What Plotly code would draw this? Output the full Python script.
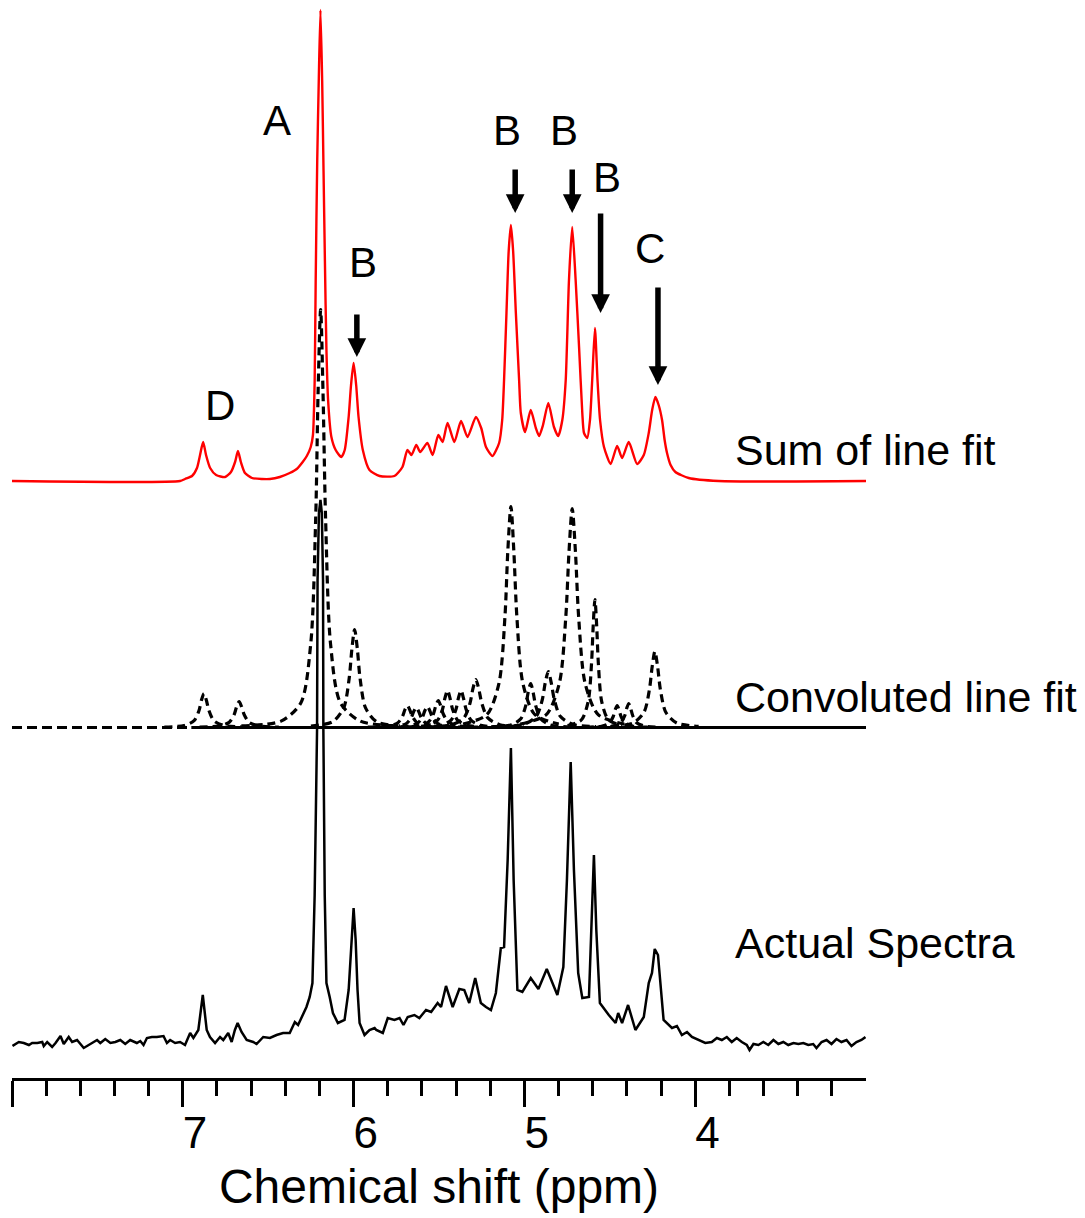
import plotly.graph_objects as go

# ---------------- axis ----------------
x_range = [8.0, 3.0]
major_ticks = [8, 7, 6, 5, 4]
major_labels = ["", "\u00a0\u00a07", "\u00a0\u00a06", "\u00a0\u00a05", "\u00a0\u00a04"]
minor_ticks = [7.8, 7.6, 7.4, 7.2, 6.8, 6.6, 6.4, 6.2, 5.8, 5.6, 5.4, 5.2,
               4.8, 4.6, 4.4, 4.2, 3.8, 3.6, 3.4, 3.2]
x_title = "Chemical shift (ppm)"

# ---------------- Sum of line fit (ppm, intensity a.u.) ----------------
sum_fit = [
    (8.000, 0), (7.016, 0), (6.987, 2), (6.946, 5), (6.917, 13), (6.899, 26), (6.881, 39),
    (6.864, 26), (6.840, 13), (6.805, 6), (6.753, 4), (6.718, 9), (6.694, 19), (6.677, 30),
    (6.660, 19), (6.636, 8), (6.595, 3), (6.537, 2), (6.490, 2), (6.432, 4), (6.374, 8),
    (6.333, 12), (6.298, 19), (6.274, 25), (6.251, 34), (6.238, 46), (6.228, 100),
    (6.222, 200), (6.213, 320), (6.204, 400), (6.194, 471), (6.184, 400), (6.176, 310),
    (6.168, 220), (6.159, 131), (6.149, 80), (6.130, 44), (6.105, 31), (6.072, 24),
    (6.052, 31), (6.029, 64), (6.015, 96), (6.000, 118), (5.985, 96), (5.971, 64),
    (5.946, 31), (5.907, 11), (5.848, 5), (5.761, 5), (5.714, 14), (5.685, 31),
    (5.661, 26), (5.633, 36), (5.610, 29), (5.568, 38), (5.537, 26), (5.504, 46),
    (5.479, 39), (5.450, 58), (5.410, 39), (5.371, 60), (5.333, 44), (5.284, 64),
    (5.253, 53), (5.225, 34), (5.187, 25), (5.148, 38), (5.130, 61), (5.119, 101),
    (5.105, 168), (5.092, 230), (5.079, 256), (5.066, 230), (5.050, 168), (5.031, 101),
    (5.021, 68), (4.996, 49), (4.963, 71), (4.933, 53), (4.914, 45), (4.891, 56),
    (4.860, 78), (4.827, 54), (4.802, 45), (4.778, 61), (4.758, 101), (4.739, 201),
    (4.720, 254), (4.700, 201), (4.680, 134), (4.661, 68), (4.651, 48), (4.632, 43),
    (4.616, 61), (4.603, 101), (4.587, 153), (4.572, 101), (4.557, 61), (4.534, 34),
    (4.495, 17), (4.457, 35), (4.428, 23), (4.389, 39), (4.340, 17), (4.301, 26),
    (4.272, 48), (4.252, 71), (4.233, 84), (4.214, 76), (4.194, 61), (4.179, 41),
    (4.165, 28), (4.144, 16), (4.116, 9), (4.038, 3), (3.863, 0), (3.000, 0),
]

# ---------------- Convoluted line fit: individual components ----------------
fit_D1 = [(7.108, 0.5), (6.992, 2.0), (6.934, 6.8), (6.905, 17), (6.891, 27.2), (6.876, 34),
          (6.862, 27.2), (6.847, 17), (6.818, 6.8), (6.760, 2.0), (6.644, 0.5)]
fit_D2 = [(6.902, 0.4), (6.786, 1.5), (6.728, 5.2), (6.699, 13), (6.685, 20.8), (6.670, 26),
          (6.656, 20.8), (6.641, 13), (6.612, 5.2), (6.554, 1.5), (6.438, 0.4)]
fit_A = [(6.657, 1.6), (6.425, 6.4), (6.309, 24.6), (6.251, 83.6), (6.222, 209), (6.208, 334.4),
         (6.193, 418), (6.179, 334.4), (6.164, 209), (6.135, 83.6), (6.077, 24.6),
         (5.961, 6.4), (5.729, 1.6)]
fit_B1 = [(6.250, 1.5), (6.122, 5.8), (6.058, 19.6), (6.026, 49), (6.010, 78.4), (5.994, 98),
          (5.978, 78.4), (5.962, 49), (5.930, 19.6), (5.866, 5.8), (5.738, 1.5)]
fit_s1 = [(5.917, 0.3), (5.801, 1.3), (5.743, 4.4), (5.714, 11), (5.700, 17.6), (5.685, 22),
          (5.671, 17.6), (5.656, 11), (5.627, 4.4), (5.569, 1.3), (5.453, 0.3)]
fit_s2 = [(5.865, 0.3), (5.749, 1.2), (5.691, 4), (5.662, 10), (5.648, 16), (5.633, 20),
          (5.619, 16), (5.604, 10), (5.575, 4), (5.517, 1.2), (5.401, 0.3)]
fit_s3 = [(5.800, 0.3), (5.684, 1.2), (5.626, 4.2), (5.597, 10.5), (5.583, 16.8), (5.568, 21),
          (5.554, 16.8), (5.539, 10.5), (5.510, 4.2), (5.452, 1.2), (5.336, 0.3)]
fit_s4 = [(5.736, 0.4), (5.620, 1.6), (5.562, 5.4), (5.533, 13.5), (5.519, 21.6), (5.504, 27),
          (5.490, 21.6), (5.475, 13.5), (5.446, 5.4), (5.388, 1.6), (5.272, 0.4)]
fit_s5 = [(5.682, 0.6), (5.566, 2.2), (5.508, 7.4), (5.479, 18.5), (5.465, 29.6), (5.450, 37),
          (5.436, 29.6), (5.421, 18.5), (5.392, 7.4), (5.334, 2.2), (5.218, 0.6)]
fit_s6 = [(5.603, 0.6), (5.487, 2.2), (5.429, 7.4), (5.400, 18.5), (5.386, 29.6), (5.371, 37),
          (5.357, 29.6), (5.342, 18.5), (5.313, 7.4), (5.255, 2.2), (5.139, 0.6)]
fit_s7 = [(5.564, 0.7), (5.424, 2.8), (5.354, 9.6), (5.319, 24), (5.302, 38.4), (5.284, 48),
          (5.267, 38.4), (5.249, 24), (5.214, 9.6), (5.144, 2.8), (5.004, 0.7)]
fit_B2 = [(5.359, 3.4), (5.219, 13), (5.149, 44.2), (5.114, 110.5), (5.097, 176.8), (5.079, 221),
          (5.062, 176.8), (5.044, 110.5), (5.009, 44.2), (4.939, 13), (4.799, 3.4)]
fit_m1 = [(5.195, 0.7), (5.079, 2.6), (5.021, 8.8), (4.992, 22), (4.978, 35.2), (4.963, 44),
          (4.949, 35.2), (4.934, 22), (4.905, 8.8), (4.847, 2.6), (4.731, 0.7)]
fit_m2 = [(5.140, 0.9), (5.000, 3.3), (4.930, 11.2), (4.895, 28), (4.878, 44.8), (4.860, 56),
          (4.843, 44.8), (4.825, 28), (4.790, 11.2), (4.720, 3.3), (4.580, 0.9)]
fit_B3 = [(5.024, 3.4), (4.872, 12.9), (4.796, 43.8), (4.758, 109.5), (4.739, 175.2), (4.720, 219),
          (4.701, 175.2), (4.682, 109.5), (4.644, 43.8), (4.568, 12.9), (4.416, 3.4)]
fit_B4 = [(4.747, 2), (4.667, 7.5), (4.627, 25.6), (4.607, 64), (4.597, 102.4), (4.587, 128),
          (4.577, 102.4), (4.567, 64), (4.547, 25.6), (4.507, 7.5), (4.427, 2)]
fit_n1 = [(4.641, 0.3), (4.549, 1.3), (4.503, 4.4), (4.480, 11), (4.469, 17.6), (4.457, 22),
          (4.446, 17.6), (4.434, 11), (4.411, 4.4), (4.365, 1.3), (4.273, 0.3)]
fit_n2 = [(4.573, 0.4), (4.481, 1.4), (4.435, 4.8), (4.412, 12), (4.401, 19.2), (4.389, 24),
          (4.378, 19.2), (4.366, 12), (4.343, 4.8), (4.297, 1.4), (4.205, 0.4)]
fit_C = [(4.492, 1.2), (4.364, 4.5), (4.300, 15.2), (4.268, 38), (4.252, 60.8), (4.236, 76),
         (4.220, 60.8), (4.204, 38), (4.172, 15.2), (4.108, 4.5), (3.980, 1.2)]
fit_baseline_dashed = [(8.0, 0), (3.0, 0)]
fit_baseline_solid = [(6.95, 0), (3.0, 0)]

# ---------------- Actual spectrum (ppm, intensity a.u.) ----------------
actual = [
    (7.997, -1), (7.960, 3), (7.931, 2), (7.901, 0), (7.882, 2), (7.852, 2), (7.823, 3),
    (7.814, -1), (7.794, 3), (7.765, -2), (7.745, 2), (7.716, 9), (7.697, 1), (7.668, 8),
    (7.648, 3), (7.619, 5), (7.580, -3), (7.541, 1), (7.502, 5), (7.483, 2), (7.454, 6),
    (7.424, 2), (7.395, 3), (7.366, 5), (7.337, 1), (7.308, 5), (7.269, 2), (7.249, 4),
    (7.230, 0), (7.210, 7), (7.181, 8), (7.152, 8), (7.113, 9), (7.093, 2), (7.074, 5),
    (7.045, 2), (7.016, 3), (6.987, 0), (6.957, 12), (6.938, 7), (6.909, 15), (6.883, 50),
    (6.860, 15), (6.841, 8), (6.811, 2), (6.782, 8), (6.763, 5), (6.734, 12), (6.714, 3),
    (6.695, 15), (6.679, 22), (6.656, 13), (6.626, 5), (6.588, 3), (6.568, 1), (6.529, 8),
    (6.490, 7), (6.451, 10), (6.413, 12), (6.374, 12), (6.344, 23), (6.325, 20), (6.296, 30),
    (6.276, 38), (6.257, 48), (6.241, 62), (6.228, 150), (6.214, 315), (6.211, 465),
    (6.203, 532), (6.194, 545), (6.186, 532), (6.179, 465), (6.177, 315), (6.169, 150),
    (6.159, 62), (6.140, 48), (6.121, 32), (6.092, 22), (6.070, 24), (6.053, 25),
    (6.029, 55), (6.012, 105), (6.000, 137), (5.988, 105), (5.977, 55), (5.965, 22),
    (5.936, 10), (5.907, 15), (5.877, 17), (5.867, 15), (5.829, 12), (5.800, 27),
    (5.761, 25), (5.731, 27), (5.708, 20), (5.683, 28), (5.644, 30), (5.615, 27),
    (5.576, 35), (5.546, 33), (5.508, 42), (5.488, 38), (5.459, 59), (5.420, 38),
    (5.381, 56), (5.352, 55), (5.323, 42), (5.288, 67), (5.255, 42), (5.225, 38),
    (5.196, 35), (5.167, 52), (5.138, 97), (5.119, 98), (5.098, 185), (5.079, 297),
    (5.063, 165), (5.041, 55), (5.012, 53), (4.963, 67), (4.918, 56), (4.869, 76),
    (4.846, 67), (4.807, 50), (4.772, 78), (4.751, 165), (4.729, 283), (4.710, 175),
    (4.685, 72), (4.661, 47), (4.622, 48), (4.605, 125), (4.593, 190), (4.579, 115),
    (4.558, 42), (4.506, 30), (4.466, 22), (4.451, 32), (4.428, 22), (4.393, 40),
    (4.350, 15), (4.301, 28), (4.272, 62), (4.253, 72), (4.237, 96), (4.218, 90),
    (4.185, 25), (4.136, 17), (4.107, 19), (4.078, 10), (4.048, 13), (4.019, 8),
    (3.980, 5), (3.941, 2), (3.903, 3), (3.873, 7), (3.844, 5), (3.815, 8), (3.786, 3),
    (3.757, 7), (3.727, 3), (3.698, 0), (3.682, -5), (3.659, 1), (3.630, 0), (3.601, 3),
    (3.572, 0), (3.542, 5), (3.513, 1), (3.484, 3), (3.455, 0), (3.425, 2), (3.396, 1),
    (3.367, 2), (3.338, 0), (3.309, 1), (3.290, -3), (3.260, 3), (3.231, 5), (3.202, 1),
    (3.173, 6), (3.144, 3), (3.114, 5), (3.085, -1), (3.056, 3), (3.027, 5), (3.003, 8),
]

# ---------------- labels ----------------
peak_labels = ["A", "B", "B", "B", "B", "C", "D"]
peak_label_ppm = [6.449, 5.947, 5.101, 4.768, 4.517, 4.266, 6.782]
peak_label_int = [361, 219, 351, 351, 304, 233, 76]

arrow_ppm = [5.981, 5.054, 4.720, 4.554, 4.218]
arrow_int = [124, 268, 268, 168, 96]
arrow_len = [44, 45, 45, 101, 99]

trace_names = ["Sum of line fit", "Convoluted line fit", "Actual Spectra"]
trace_label_ppm = 3.776
trace_label_int = [31, 30.5, 102]

FONT = "Liberation Sans, Arial, Helvetica, sans-serif"

fig = go.Figure()

# actual spectrum (y)
fig.add_trace(go.Scatter(
    x=[p[0] for p in actual], y=[p[1] for p in actual], mode="lines",
    line=dict(color="black", width=2.5), yaxis="y", showlegend=False, hoverinfo="skip"))

# convoluted components (y2)
components = [fit_D1, fit_D2, fit_A, fit_B1, fit_s1, fit_s2, fit_s3, fit_s4, fit_s5, fit_s6,
              fit_s7, fit_B2, fit_m1, fit_m2, fit_B3, fit_B4, fit_n1, fit_n2, fit_C]
fig.add_trace(go.Scatter(
    x=[p[0] for p in fit_baseline_dashed], y=[p[1] for p in fit_baseline_dashed], mode="lines",
    line=dict(color="black", width=3.2, dash="10px,5px"), yaxis="y2",
    showlegend=False, hoverinfo="skip"))
for comp in components:
    fig.add_trace(go.Scatter(
        x=[p[0] for p in comp], y=[p[1] for p in comp], mode="lines",
        line=dict(color="black", width=3.2, dash="8px,5px", shape="spline", smoothing=0.8),
        yaxis="y2", showlegend=False, hoverinfo="skip"))
fig.add_trace(go.Scatter(
    x=[p[0] for p in fit_baseline_solid], y=[p[1] for p in fit_baseline_solid], mode="lines",
    line=dict(color="black", width=3.2), yaxis="y2", showlegend=False, hoverinfo="skip"))

# sum of line fit (y3)
fig.add_trace(go.Scatter(
    x=[p[0] for p in sum_fit], y=[p[1] for p in sum_fit], mode="lines",
    line=dict(color="#ff0000", width=2.4, shape="spline", smoothing=0.6),
    yaxis="y3", showlegend=False, hoverinfo="skip"))

annotations = []
for t, xp, yp in zip(peak_labels, peak_label_ppm, peak_label_int):
    annotations.append(dict(x=xp, y=yp, xref="x", yref="y3", text=t, showarrow=False,
                            font=dict(family=FONT, size=42, color="black"),
                            xanchor="center", yanchor="middle"))
for xp, yp, ln in zip(arrow_ppm, arrow_int, arrow_len):
    annotations.append(dict(x=xp, y=yp, xref="x", yref="y3", text="", showarrow=True,
                            ax=0, ay=-ln, axref="pixel", ayref="pixel",
                            arrowhead=2, arrowsize=0.68, arrowwidth=5.5, arrowcolor="black",
                            standoff=0))
for name, yref, yv in zip(trace_names, ["y3", "y2", "y"], trace_label_int):
    annotations.append(dict(x=trace_label_ppm, y=yv, xref="x", yref=yref, text=name,
                            showarrow=False, xanchor="left", yanchor="middle",
                            font=dict(family=FONT, size=43, color="black")))

fig.update_layout(
    width=1077, height=1210, autosize=False,
    margin=dict(l=4, r=219, t=0, b=140, pad=0),
    plot_bgcolor="white", paper_bgcolor="white", showlegend=False,
    annotations=annotations,
    xaxis=dict(
        range=x_range, tickmode="array", tickvals=major_ticks, ticktext=major_labels,
        ticks="outside", ticklen=26, tickwidth=2.5, tickcolor="black",
        ticklabelstandoff=-12,
        showline=True, linecolor="black", linewidth=2.5, showgrid=False, zeroline=False,
        tickfont=dict(family=FONT, size=44, color="black"),
        minor=dict(tickvals=minor_ticks, ticks="outside", ticklen=15, tickwidth=2.5,
                   tickcolor="black", showgrid=False),
        title=dict(text=x_title, font=dict(family=FONT, size=48, color="black"), standoff=14),
    ),
    yaxis=dict(range=[-33, 1037], visible=False),
    yaxis2=dict(range=[-350.5, 719.5], overlaying="y", visible=False),
    yaxis3=dict(range=[-597, 473], overlaying="y", visible=False),
)

fig.write_html("out.html")
